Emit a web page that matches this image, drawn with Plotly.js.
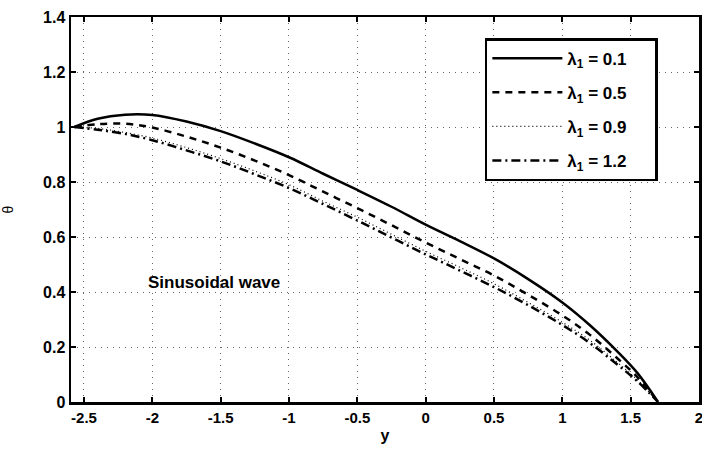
<!DOCTYPE html>
<html>
<head>
<meta charset="utf-8">
<script src="https://cdn.plot.ly/plotly-3.0.1.min.js"></script>
<style>html,body{margin:0;padding:0;background:#fff;}#chart{width:702px;height:450px;}</style>
</head>
<body>
<div id="chart"></div>
<script>
var yPos = [-2.57, -2.4, -2.2, -2.0, -1.75, -1.5, -1.25, -1.0, -0.75, -0.5, -0.25, 0, 0.25, 0.5, 0.75, 1.0, 1.2, 1.4, 1.55, 1.7];
var theta01 = [1.0, 1.03, 1.045, 1.044, 1.02, 0.985, 0.94, 0.89, 0.83, 0.771, 0.71, 0.645, 0.585, 0.522, 0.447, 0.362, 0.28, 0.185, 0.105, 0];
var theta05 = [1.0, 1.01, 1.012, 0.998, 0.965, 0.925, 0.878, 0.825, 0.765, 0.705, 0.643, 0.58, 0.52, 0.46, 0.39, 0.315, 0.245, 0.16, 0.09, 0];
var theta09 = [1.0, 0.995, 0.98, 0.96, 0.925, 0.885, 0.84, 0.79, 0.73, 0.672, 0.61, 0.548, 0.49, 0.43, 0.362, 0.29, 0.225, 0.145, 0.08, 0];
var theta12 = [1.0, 0.99, 0.975, 0.952, 0.915, 0.875, 0.828, 0.778, 0.72, 0.66, 0.598, 0.537, 0.478, 0.418, 0.352, 0.28, 0.215, 0.137, 0.075, 0];
var legendNames = ["λ<sub>1</sub> = 0.1", "λ<sub>1</sub> = 0.5", "λ<sub>1</sub> = 0.9", "λ<sub>1</sub> = 1.2"];
var xTicks = [-2.5, -2, -1.5, -1, -0.5, 0, 0.5, 1, 1.5, 2];
var yTicks = [0, 0.2, 0.4, 0.6, 0.8, 1, 1.2, 1.4];

var series = [theta01, theta05, theta09, theta12];
var dashes = ["solid", "7px,6px", "1px,3px", "9px,4px,2px,4px"];
var widths = [2.5, 2.5, 1.2, 2.5];
var pad = "\u00A0\u00A0\u00A0\u00A0\u00A0";
var traces = series.map(function (s, i) {
  return {
    x: yPos, y: s, mode: "lines", name: legendNames[i] + pad, legendgroup: "g" + i,
    line: {color: "#000", width: widths[i], dash: dashes[i], shape: "spline", smoothing: 1},
    hoverinfo: "skip"
  };
});

var fam = "Liberation Sans, Arial, sans-serif";
var layout = {
  width: 702, height: 450,
  margin: {l: 71, r: 3, t: 17, b: 48},
  paper_bgcolor: "#fff", plot_bgcolor: "#fff",
  showlegend: true,
  font: {family: fam, color: "#000", size: 15},
  xaxis: {
    range: [-2.595, 2], tickvals: xTicks, ticktext: xTicks.map(String),
    ticks: "inside", ticklen: 5, tickwidth: 2, tickcolor: "#000",
    showline: true, linecolor: "#000", linewidth: 2.5, mirror: "ticks",
    showgrid: true, gridcolor: "#666", griddash: "1px,5px", gridwidth: 1,
    zeroline: false, ticklabeloverflow: "allow",
    tickfont: {family: fam, size: 15, color: "#000", weight: "bold"},
    title: {text: "y", font: {family: fam, size: 16, color: "#000", weight: "bold"}, standoff: 6}
  },
  yaxis: {
    range: [0, 1.4], tickvals: yTicks, ticktext: yTicks.map(String),
    ticks: "inside", ticklen: 5, tickwidth: 2, tickcolor: "#000",
    showline: true, linecolor: "#000", linewidth: 2.5, mirror: "ticks",
    showgrid: true, gridcolor: "#666", griddash: "1px,5px", gridwidth: 1,
    zeroline: false,
    tickfont: {family: fam, size: 16, color: "#000", weight: "bold"},
    title: {text: "θ", font: {family: fam, size: 14, color: "#000"}, standoff: 26}
  },
  legend: {
    x: 0.659, y: 0.945, xanchor: "left", yanchor: "top",
    bgcolor: "#fff", bordercolor: "#000", borderwidth: 2.5,
    font: {family: fam, size: 17, color: "#000", weight: "bold"},
    itemwidth: 70, tracegroupgap: 9, traceorder: "grouped"
  },
  annotations: [{
    x: -1.55, y: 0.436, xref: "x", yref: "y", text: "Sinusoidal wave", showarrow: false,
    font: {family: fam, size: 17, color: "#000", weight: "bold"}
  }]
};
Plotly.newPlot("chart", traces, layout, {displayModeBar: false, staticPlot: true});
</script>
</body>
</html>
